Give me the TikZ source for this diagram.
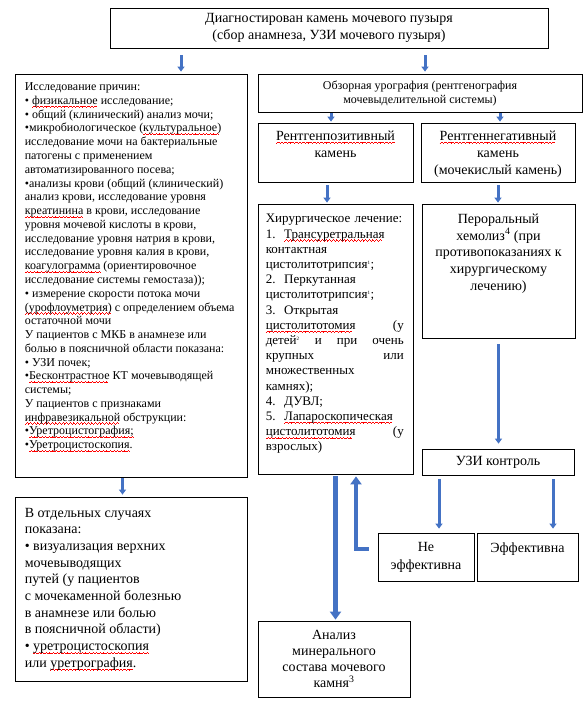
\documentclass[tikz,border=0pt]{standalone}
\usepackage{fontspec}
\setmainfont{Liberation Serif}
\usetikzlibrary{positioning,arrows.meta}
\definecolor{arrowblue}{HTML}{4472C4}
\newsavebox\spellbox
\newcommand\squig{\rule[-3.2pt]{0.9pt}{0.7pt}\rule[-2.6pt]{0.9pt}{0.7pt}\rule[-2pt]{0.9pt}{0.7pt}\rule[-2.6pt]{0.9pt}{0.7pt}}
\newcommand\spell[1]{\leavevmode\sbox\spellbox{#1}\rlap{\color{red}\hbox to\wd\spellbox{\leaders\hbox{\squig}\hfill}}\usebox\spellbox}

\begin{document}
\begin{tikzpicture}[x=1pt, y=-1pt,
            boxnode/.style={draw, line width=0.75pt, inner sep=0pt},
            txtnode/.style={inner sep=0pt, align=left},
            bluearrow/.style={draw=arrowblue, line width=3pt, -{Triangle[width=7pt, length=5pt]}},
        ]
            \useasboundingbox (0,0) rectangle (587,701);

            %Boxes
            \node[boxnode, minimum width=438, minimum height=40](diag) at (329,28) {};
            \node[boxnode, minimum width=232, minimum height=403](prich) at (131,275.5) {};
            \node[boxnode, minimum width=324, minimum height=38, align=center, font=\fontsize{12}{14}\selectfont](obz) at (420,93)
                {Обзорная урография (рентгенография\\мочевыделительной системы)};
            \node[boxnode, minimum width=155, minimum height=59](pos) at (335.5,152.5) {};
            \node[boxnode, minimum width=154, minimum height=59](neg) at (498,152.5) {};
            \node[boxnode, minimum width=155, minimum height=270](hir) at (335.5,339) {};
            \node[boxnode, minimum width=153, minimum height=134](hem) at (498.5,271) {};
            \node[boxnode, minimum width=152, minimum height=26, font=\fontsize{14}{16}\selectfont](uzi) at (498,462) {УЗИ контроль};
            \node[boxnode, minimum width=96, minimum height=48](ne) at (426,557) {};
            \node[boxnode, minimum width=101, minimum height=48](eff) at (527.5,557) {};
            \node[boxnode, minimum width=232, minimum height=184](otd) at (131.5,589) {};
            \node[boxnode, minimum width=152, minimum height=76, align=center, font=\fontsize{14}{16}\selectfont](anal) at (334,659)
                {Анализ\\минерального\\состава мочевого\\камня\textsuperscript{3}};

            %Texts
            \node[txtnode, align=center, font=\fontsize{14}{17}\selectfont, below=6pt of diag.north](diagtext)
                {Диагностирован камень мочевого пузыря\\(сбор анамнеза, УЗИ мочевого пузыря)};
            \node[txtnode, font=\fontsize{12}{13.77}\selectfont, below right=9pt and 10pt of prich.north west](prichtext) {Исследование причин:\\
                • \spell{физикальное} исследование;\\
                • общий (клинический) анализ мочи;\\
                •микробиологическое (\spell{культуральное)}\\
                исследование мочи на бактериальные\\
                патогены с применением\\
                автоматизированного посева;\\
                •анализы крови (общий (клинический)\\
                анализ крови, исследование уровня\\
                \spell{креатинина} в крови, исследование\\
                уровня мочевой кислоты в крови,\\
                исследование уровня натрия в крови,\\
                исследование уровня калия в крови,\\
                \spell{коагулограмма} (ориентировочное\\
                исследование системы гемостаза));\\
                • измерение скорости потока мочи\\
                \spell{(урофлоуметрия)} с определением объема\\
                остаточной мочи\\
                У пациентов с МКБ в анамнезе или\\
                болью в поясничной области показана:\\
                • УЗИ почек;\\
                •\spell{Бесконтрастное} КТ мочевыводящей\\
                системы;\\
                У пациентов с признаками\\
                \spell{инфравезикальной} обструкции:\\
                •\spell{Уретроцистография;}\\
                •\spell{Уретроцистоскопия.}};
            \node[txtnode, align=center, font=\fontsize{14}{17}\selectfont, below=8pt of pos.north](postext)
                {\spell{Рентгенпозитивный}\\камень};
            \node[txtnode, align=center, font=\fontsize{14}{17}\selectfont, below=8pt of neg.north](negtext)
                {\spell{Рентгеннегативный}\\камень\\(мочекислый камень)};
            \node[txtnode, text width=138pt, font=\fontsize{13}{15.2}\selectfont, below right=10.5pt and 8pt of hir.north west](hirtext) {Хирургическое лечение:\\
                1.\ \ \spell{Трансуретральная}\\
                контактная\\
                цистолитотрипсия\textsuperscript{\tiny 1};\\
                2.\ \ Перкутанная\\
                цистолитотрипсия\textsuperscript{\tiny 1};\\
                3.\ \ Открытая\\
                \spell{цистолитотомия} \hfill (у\\
                детей\textsuperscript{\tiny 2} \hfill и \hfill при \hfill очень\\
                крупных \hfill или\\
                множественных\\
                камнях);\\
                4.\ \ ДУВЛ;\\
                5.\ \ \spell{Лапароскопическая}\\
                \spell{цистолитотомия} \hfill (у\\
                взрослых)};
            \node[txtnode, align=center, font=\fontsize{14}{16.7}\selectfont, below=10pt of hem.north](hemtext)
                {Пероральный\\хемолиз\textsuperscript{4} (при\\противопоказаниях к\\хирургическому\\лечению)};
            \node[txtnode, align=center, font=\fontsize{14}{18}\selectfont, below=10pt of ne.north](netext) {Не\\эффективна};
            \node[txtnode, align=center, font=\fontsize{14}{18}\selectfont, below=10pt of eff.north](efftext) {Эффективна};
            \node[txtnode, font=\fontsize{14}{16.7}\selectfont, below right=11pt and 9.5pt of otd.north west](otdtext) {В отдельных случаях\\
                показана:\\
                • визуализация верхних\\
                мочевыводящих\\
                путей (у пациентов\\
                с мочекаменной болезнью\\
                в анамнезе или болью\\
                в поясничной области)\\
                • \spell{уретроцистоскопия}\\
                или \spell{уретрография.}};

            %Arrows
            \draw[bluearrow, shorten <=7pt, shorten >=2pt]([xshift=50pt]prich.north |- diag.south) -- ([xshift=50pt]prich.north);
            \draw[bluearrow, shorten <=7pt, shorten >=2pt]([xshift=5pt]obz.north |- diag.south) -- ([xshift=5pt]obz.north);
            \draw[bluearrow, shorten <=1pt, shorten >=1pt]([xshift=-4.5pt]pos.north |- obz.south) -- ([xshift=-4.5pt]pos.north);
            \draw[bluearrow, shorten <=1pt, shorten >=1pt]([xshift=2pt]neg.north |- obz.south) -- ([xshift=2pt]neg.north);
            \draw[bluearrow, shorten <=3pt, shorten >=1pt]([xshift=-8.5pt]hir.north |- pos.south) -- ([xshift=-8.5pt]hir.north);
            \draw[bluearrow, shorten <=3pt, shorten >=1pt](neg.south) -- (neg.south |- hem.north);
            \draw[bluearrow, shorten <=6pt, shorten >=5pt](hem.south) -- (hem.south |- uzi.north);
            \draw[bluearrow, shorten <=4pt, shorten >=4pt]([xshift=13pt]ne.north |- uzi.south) -- ([xshift=13pt]ne.north);
            \draw[bluearrow, shorten <=4pt, shorten >=4pt]([xshift=25.5pt]eff.north |- uzi.south) -- ([xshift=25.5pt]eff.north);
            \draw[bluearrow, shorten <=1pt, shorten >=2pt]([xshift=-9pt]otd.north |- prich.south) -- ([xshift=-9pt]otd.north);
            \draw[bluearrow, line width=4.5pt, -{Triangle[width=11pt, length=8pt]}, shorten <=2pt, shorten >=1pt](hir.south) -- (hir.south |- anal.north);
            \draw[bluearrow, line width=4pt, -{Triangle[width=11pt, length=8pt]}, shorten >=2pt]([shift={(-9pt,8pt)}]ne.west) -| ([xshift=20.5pt]hir.south);
        \end{tikzpicture}
\end{document}
